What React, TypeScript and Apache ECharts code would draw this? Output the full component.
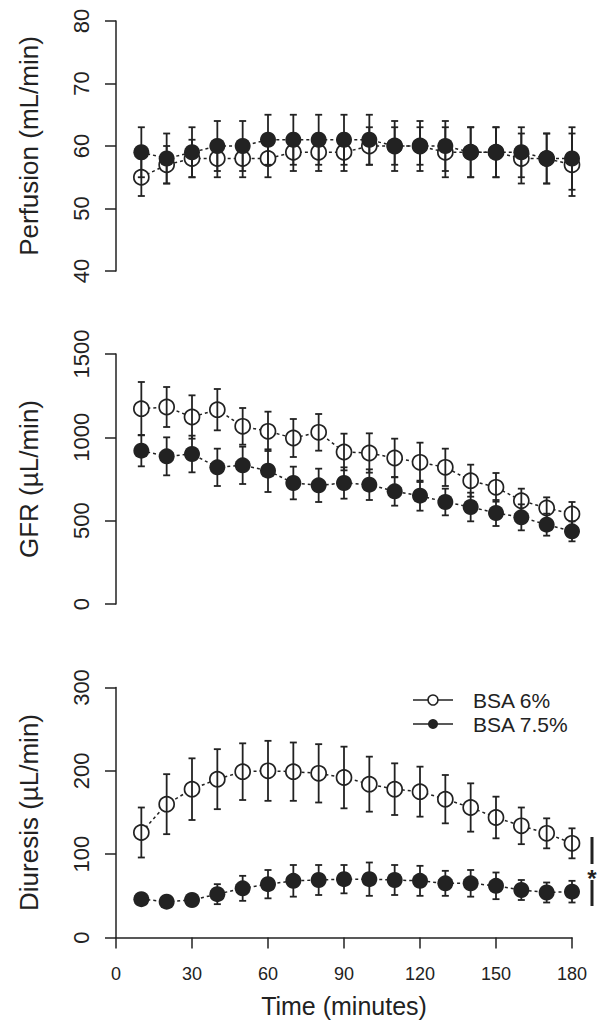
import React, { useEffect, useRef } from "react";
import * as echarts from "echarts";

const time = [10, 20, 30, 40, 50, 60, 70, 80, 90, 100, 110, 120, 130, 140, 150, 160, 170, 180];
const xTicks = [0, 30, 60, 90, 120, 150, 180];

const perf6 = [55, 57, 58, 58, 58, 58, 59, 59, 59, 60, 60, 60, 59, 59, 59, 58, 58, 57];
const perf6se = [3, 3, 3, 3, 3, 3, 3, 3, 3, 3, 3, 3, 4, 4, 4, 4, 4, 5];
const perf75 = [59, 58, 59, 60, 60, 61, 61, 61, 61, 61, 60, 60, 60, 59, 59, 59, 58, 58];
const perf75se = [4, 4, 4, 4, 4, 4, 4, 4, 4, 4, 4, 4, 4, 4, 4, 4, 4, 5];

const gfr6 = [1172, 1182, 1122, 1166, 1066, 1036, 996, 1030, 912, 906, 876, 850, 820, 740, 700, 620, 576, 540];
const gfr6se = [160, 120, 130, 124, 110, 118, 114, 110, 110, 118, 116, 118, 112, 96, 86, 72, 64, 72];
const gfr75 = [920, 886, 900, 820, 832, 800, 726, 712, 726, 716, 676, 650, 612, 582, 546, 520, 476, 436];
const gfr75se = [94, 114, 110, 112, 112, 128, 98, 100, 94, 92, 86, 90, 80, 86, 78, 78, 66, 60];

const diu6 = [126, 160, 178, 190, 199, 200, 199, 197, 192, 184, 178, 175, 166, 156, 144, 134, 125, 113];
const diu6se = [30, 36, 37, 36, 34, 36, 35, 35, 37, 33, 31, 30, 29, 29, 25, 22, 18, 18];
const diu75 = [46, 43, 45, 52, 59, 64, 68, 69, 70, 70, 69, 68, 65, 65, 62, 57, 54, 55];
const diu75se = [5, 5, 6, 12, 15, 17, 19, 18, 17, 20, 18, 18, 15, 16, 16, 12, 12, 13];

const seriesNames = ["BSA 6%", "BSA 7.5%"];
const yTitles = ["Perfusion (mL/min)", "GFR (\u00b5L/min)", "Diuresis (\u00b5L/min)"];
const yRanges = [
  { min: 40, max: 80, interval: 10 },
  { min: 0, max: 1500, interval: 500 },
  { min: 0, max: 300, interval: 100 },
];
const xTitle = "Time (minutes)";
const sigLabel = "*";

const FONT = "'Liberation Sans', Arial, Helvetica, sans-serif";
const INK = "#222";

export default function App() {
  const ref = useRef<HTMLDivElement>(null);
  useEffect(() => {
    if (!ref.current) return;
    const chart = echarts.init(ref.current, undefined, { renderer: "svg" });

    const panels = [
      { a: perf6, ase: perf6se, b: perf75, bse: perf75se },
      { a: gfr6, ase: gfr6se, b: gfr75, bse: gfr75se },
      { a: diu6, ase: diu6se, b: diu75, bse: diu75se },
    ];
    const tops = [21, 354, 687.5];
    const gridH = 250;

    const grids = tops.map((t) => ({ left: 116, width: 456, top: t, height: gridH }));

    const xAxes = tops.map((_, i) => ({
      type: "value",
      gridIndex: i,
      min: 0,
      max: 180,
      interval: 30,
      show: i === 2,
      name: i === 2 ? xTitle : "",
      nameLocation: "middle",
      nameGap: 56,
      nameTextStyle: { fontFamily: FONT, fontSize: 25, color: INK },
      axisLine: { show: true, lineStyle: { color: INK, width: 1.5 } },
      axisTick: { show: true, length: 11, lineStyle: { color: INK, width: 1.5 } },
      axisLabel: {
        fontFamily: FONT,
        fontSize: 18,
        color: INK,
        margin: 27,
        customValues: xTicks,
        formatter: (v: number) => String(v),
      },
      splitLine: { show: false },
    }));

    const yAxes = yRanges.map((r, i) => ({
      type: "value",
      gridIndex: i,
      min: r.min,
      max: r.max,
      interval: r.interval,
      name: yTitles[i],
      nameLocation: "middle",
      nameRotate: 90,
      nameGap: 74,
      nameTextStyle: { fontFamily: FONT, fontSize: 26, color: INK },
      axisLine: { show: true, lineStyle: { color: INK, width: 1.5 } },
      axisTick: { show: true, length: 11, lineStyle: { color: INK, width: 1.5 } },
      axisLabel: {
        fontFamily: FONT,
        fontSize: 22,
        color: INK,
        rotate: 90,
        margin: 24,
        formatter: (v: number) => String(v),
      },
      splitLine: { show: false },
    }));

    const errRender = (params: any, api: any) => {
      const x = api.value(0);
      const lo = api.value(1);
      const hi = api.value(2);
      const top = api.coord([x, hi]);
      const bot = api.coord([x, lo]);
      const w = 3.5;
      const style = { stroke: INK, lineWidth: 1.8 };
      return {
        type: "group",
        children: [
          { type: "line", shape: { x1: top[0], y1: top[1], x2: bot[0], y2: bot[1] }, style },
          { type: "line", shape: { x1: top[0] - w, y1: top[1], x2: top[0] + w, y2: top[1] }, style },
          { type: "line", shape: { x1: bot[0] - w, y1: bot[1], x2: bot[0] + w, y2: bot[1] }, style },
        ],
      };
    };

    const series: any[] = [];
    panels.forEach((p, i) => {
      const dA = time.map((t, k) => [t, p.a[k]]);
      const dB = time.map((t, k) => [t, p.b[k]]);
      const eA = time.map((t, k) => [t, p.a[k] - p.ase[k], p.a[k] + p.ase[k]]);
      const eB = time.map((t, k) => [t, p.b[k] - p.bse[k], p.b[k] + p.bse[k]]);
      const lineCommon = {
        type: "line",
        xAxisIndex: i,
        yAxisIndex: i,
        showSymbol: false,
        symbol: "none",
        clip: false,
        lineStyle: { color: INK, width: 1.5, type: [3, 3] },
        z: 1,
        silent: true,
      };
      series.push({ ...lineCommon, name: seriesNames[0] + " line", data: dA });
      series.push({ ...lineCommon, name: seriesNames[1] + " line", data: dB });
      series.push({
        type: "scatter",
        name: seriesNames[0],
        xAxisIndex: i,
        yAxisIndex: i,
        data: dA,
        symbol: "circle",
        symbolSize: 15,
        clip: false,
        itemStyle: { color: "#fff", borderColor: INK, borderWidth: 1.7, opacity: 1 },
        z: 2,
      });
      series.push({
        type: "custom",
        xAxisIndex: i,
        yAxisIndex: i,
        data: eA,
        renderItem: errRender,
        encode: { x: 0, y: [1, 2] },
        clip: false,
        z: 3,
      });
      series.push({
        type: "custom",
        xAxisIndex: i,
        yAxisIndex: i,
        data: eB,
        renderItem: errRender,
        encode: { x: 0, y: [1, 2] },
        clip: false,
        z: 3,
      });
      series.push({
        type: "scatter",
        name: seriesNames[1],
        xAxisIndex: i,
        yAxisIndex: i,
        data: dB,
        symbol: "circle",
        symbolSize: 16,
        clip: false,
        itemStyle: { color: INK, opacity: 1 },
        z: 4,
      });
    });

    const legendX = 413;
    const legendRows = [700, 724];
    const graphic: any[] = [];
    seriesNames.forEach((nm, k) => {
      const y = legendRows[k];
      graphic.push({
        type: "line",
        shape: { x1: legendX, y1: y, x2: legendX + 40, y2: y },
        style: { stroke: INK, lineWidth: 1.6 },
      });
      graphic.push({
        type: "circle",
        shape: { cx: legendX + 20, cy: y, r: 5 },
        style: k === 0 ? { fill: "#fff", stroke: INK, lineWidth: 1.6 } : { fill: INK },
      });
      graphic.push({
        type: "text",
        x: legendX + 60,
        y: y,
        style: { text: nm, fontFamily: FONT, fontSize: 21, fill: INK, verticalAlign: "middle", align: "left" },
      });
    });
    graphic.push({ type: "line", shape: { x1: 592, y1: 837, x2: 592, y2: 864 }, style: { stroke: INK, lineWidth: 3 } });
    graphic.push({ type: "line", shape: { x1: 592, y1: 880, x2: 592, y2: 906 }, style: { stroke: INK, lineWidth: 3 } });
    graphic.push({
      type: "text",
      x: 592,
      y: 878,
      style: { text: sigLabel, fontFamily: FONT, fontSize: 24, fontWeight: "bold", fill: INK, align: "center", verticalAlign: "middle" },
    });

    chart.setOption({
      animation: false,
      backgroundColor: "#fff",
      grid: grids,
      xAxis: xAxes,
      yAxis: yAxes,
      series,
      graphic,
    });
    return () => chart.dispose();
  }, []);
  return <div ref={ref} style={{ position: "absolute", left: 0, top: 0, width: 597, height: 1023 }} />;
}
